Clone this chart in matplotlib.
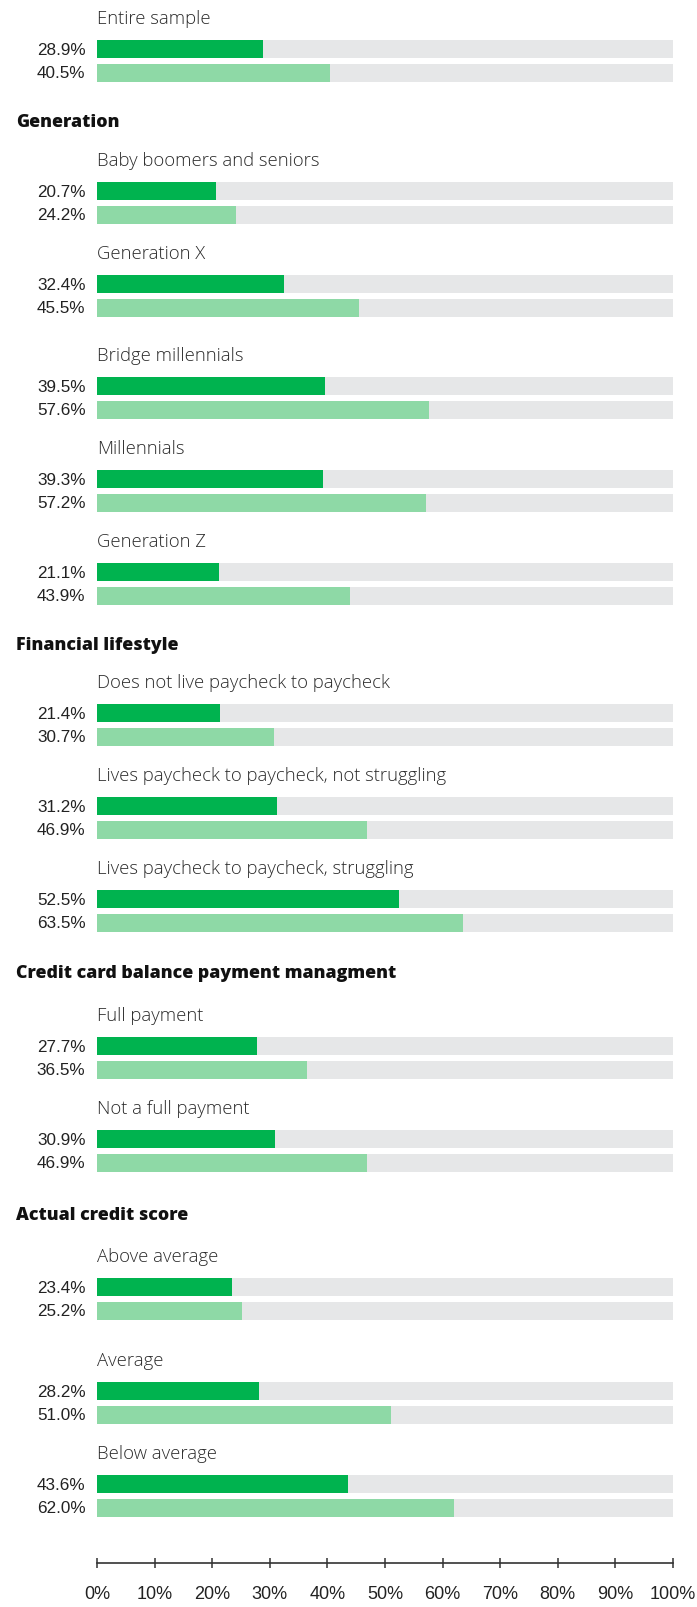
import matplotlib
matplotlib.use("Agg")
import matplotlib.pyplot as plt
from matplotlib.transforms import blended_transform_factory

# sections and their subgroups, first row has no section header
sections = [None, "Generation", "Financial lifestyle",
            "Credit card balance payment managment", "Actual credit score"]
groups = [
    ["Entire sample"],
    ["Baby boomers and seniors", "Generation X", "Bridge millennials",
     "Millennials", "Generation Z"],
    ["Does not live paycheck to paycheck",
     "Lives paycheck to paycheck, not struggling",
     "Lives paycheck to paycheck, struggling"],
    ["Full payment", "Not a full payment"],
    ["Above average", "Average", "Below average"],
]
dark_vals = [
    [28.9],
    [20.7, 32.4, 39.5, 39.3, 21.1],
    [21.4, 31.2, 52.5],
    [27.7, 30.9],
    [23.4, 28.2, 43.6],
]
light_vals = [
    [40.5],
    [24.2, 45.5, 57.6, 57.2, 43.9],
    [30.7, 46.9, 63.5],
    [36.5, 46.9],
    [25.2, 51.0, 62.0],
]
ticks = list(range(0, 101, 10))

DARK = "#00b34f"
LIGHT = "#8ed9a6"
TRACK = "#e6e7e8"

W, H = 697, 1608
fig = plt.figure(figsize=(W / 100, H / 100), dpi=100)
ax = fig.add_axes([97 / W, 0, 576 / W, 1])
ax.set_xlim(0, 100)
ax.set_ylim(H, 0)
to_fig = blended_transform_factory(fig.transFigure, ax.transData)

title_font = dict(family=["Open Sans", "DejaVu Sans"], weight="light", size=13.3, color="#2a2a2a")
head_font = dict(family=["Open Sans", "DejaVu Sans"], weight="heavy", size=12.8, color="#111111")
val_font = dict(family=["Liberation Sans", "DejaVu Sans"], size=12.3, color="#222222")

bar_h = 18
pair_gap = 23.5
step = 93
# vertical spacing around each section header (pixels)
gap_before_head = [0, 72, 72, 73, 75]
gap_after_head = [0, 70, 69, 74, 73]
extra = {"Bridge millennials": 9, "Average": 11}

y = 50.3
for s, (head, names) in enumerate(zip(sections, groups)):
    if head is not None:
        y += gap_before_head[s]
        ax.text(16 / W, y, head, transform=to_fig, ha="left", va="center", **head_font)
        y += gap_after_head[s]
    for g, name in enumerate(names):
        if g > 0:
            y += step
        y += extra.get(name, 0)
        d, l = dark_vals[s][g], light_vals[s][g]
        ax.text(0, y - 31, name, ha="left", va="center", **title_font)
        ax.barh([y, y + pair_gap], [100, 100], height=bar_h, color=TRACK, lw=0)
        ax.barh(y, d, height=bar_h, color=DARK, lw=0)
        ax.barh(y + pair_gap, l, height=bar_h, color=LIGHT, lw=0)
        ax.text(-2, y, f"{d:.1f}%", ha="right", va="center", **val_font)
        ax.text(-2, y + pair_gap, f"{l:.1f}%", ha="right", va="center", **val_font)

# bottom percentage axis
for side in ["left", "right", "top"]:
    ax.spines[side].set_visible(False)
ax.spines["bottom"].set_position(("data", 1564))
ax.spines["bottom"].set_color("#333333")
ax.spines["bottom"].set_linewidth(1.2)
ax.set_yticks([])
ax.set_xticks(ticks)
ax.set_xticklabels([f"{t}%" for t in ticks])
ax.tick_params(axis="x", direction="inout", length=7, width=1.1, color="#333333", pad=12)
for lab in ax.get_xticklabels():
    lab.set_fontfamily(["Liberation Sans Narrow", "Liberation Sans", "DejaVu Sans"])
    lab.set_fontsize(13)
    lab.set_color("#222222")
ax.patch.set_alpha(0)

fig.savefig("out.png", dpi=100, facecolor="white")
